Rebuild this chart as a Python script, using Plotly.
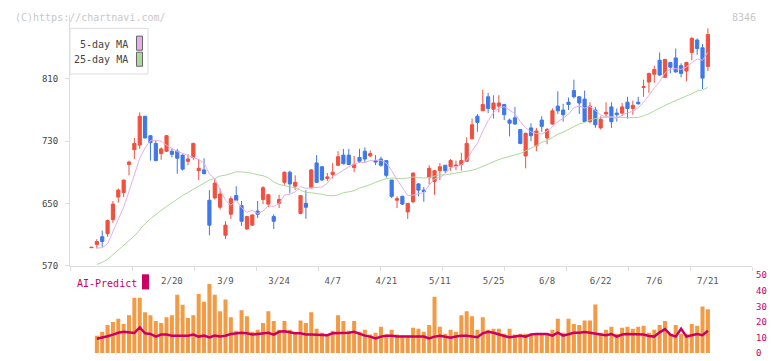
import plotly.graph_objects as go

# ---------------- data ----------------
tick_idx = [15, 25, 35, 45, 55, 65, 75, 85, 95, 105, 115]
tick_text = ["2/20", "3/9", "3/24", "4/7", "4/21", "5/11", "5/25", "6/8", "6/22", "7/6", "7/21"]

opens = [593, 597, 607, 611, 629, 658, 664, 700, 719, 725, 762, 737, 727, 714, 717, 717, 717, 712, 704, 709,
         692, 693, 654, 657, 645, 609, 636, 660, 647, 617, 622, 640, 655, 649, 633, 650, 677, 690, 672, 637,
         650, 670, 702, 697, 682, 687, 699, 712, 712, 696, 709, 717, 711, 705, 707, 705, 680, 654, 659, 639,
         652, 675, 667, 683, 678, 692, 699, 697, 698, 700, 704, 733, 762, 769, 787, 771, 775, 777, 757, 760,
         745, 711, 747, 724, 757, 734, 752, 775, 770, 780, 795, 787, 784, 755, 770, 747, 765, 774, 766, 766,
         780, 772, 780, 799, 806, 816, 834, 812, 831, 837, 827, 820, 844, 860, 850, 826]
highs = [593.5, 604, 615, 629, 653, 669, 680, 705, 734, 767, 762, 737, 731, 722, 738, 720, 720, 713, 713, 728,
         707, 708, 667, 682, 669, 627, 659, 672, 653, 634, 636, 653, 672, 662, 636, 661, 691, 692, 686, 660,
         667, 694, 712, 698, 689, 702, 717, 720, 720, 711, 720, 722, 718, 712, 710, 705, 680, 659, 660, 650,
         689, 676, 671, 699, 693, 702, 699, 707, 705, 715, 735, 759, 765, 796, 792, 789, 789, 778, 759, 774,
         745, 741, 753, 747, 762, 747, 772, 794, 778, 786, 809, 788, 795, 780, 774, 762, 780, 780, 772, 779,
         787, 782, 787, 809, 818, 827, 844, 836, 832, 849, 830, 832, 864, 862, 855, 875]
lows = [593, 592, 594, 607, 625, 651, 658, 686, 707, 720, 734, 705, 704, 706, 716, 709, 688, 692, 699, 706,
        680, 688, 609, 655, 642, 604, 630, 654, 621, 616, 621, 631, 649, 645, 617, 644, 674, 663, 667, 636,
        630, 669, 676, 679, 679, 682, 698, 700, 699, 690, 702, 702, 709, 699, 697, 683, 657, 644, 648, 630,
        650, 659, 652, 674, 661, 680, 689, 692, 693, 692, 703, 732, 742, 769, 766, 759, 767, 757, 736, 751,
        726, 695, 730, 717, 742, 726, 751, 765, 755, 770, 785, 765, 755, 753, 747, 745, 761, 747, 755, 762,
        759, 764, 777, 787, 792, 805, 814, 811, 817, 818, 812, 807, 834, 841, 797, 820]
closes = [593.5, 601, 601, 628, 649, 667, 680, 703, 727, 762, 734, 728, 705, 720, 737, 713, 708, 694, 707, 727,
          695, 688, 622, 676, 662, 622, 656, 654, 627, 633, 635, 636, 670, 661, 627, 655, 690, 675, 677, 660,
          645, 693, 677, 680, 684, 690, 710, 701, 700, 700, 704, 707, 714, 703, 699, 686, 659, 656, 649, 650,
          689, 667, 665, 695, 692, 697, 692, 705, 699, 705, 727, 751, 754, 777, 772, 779, 779, 764, 753, 752,
          727, 740, 737, 743, 749, 745, 769, 769, 764, 777, 787, 779, 755, 775, 751, 758, 767, 755, 764, 774,
          772, 776, 778, 800, 817, 822, 815, 835, 825, 819, 817, 831, 862, 849, 811, 867]

ma5 = [None, 592.5, 593, 598, 614.4, 629.2, 645, 665.4, 685.2, 707.8, 721.2, 730.8, 731.2, 729.8, 724.8,
       720.6, 716.6, 714.4, 711.8, 709.8, 706.2, 702.2, 687.8, 681.6, 668.6, 654, 647.6, 654, 644.2, 638.4,
       641, 637, 640.2, 647, 645.8, 649.8, 660.6, 661.6, 664.8, 671.4, 669.4, 670, 670.4, 671, 675.8, 684.8,
       688.2, 693, 697, 700.2, 703, 702.4, 705, 705.6, 705.4, 701.8, 692.2, 680.6, 669.8, 660, 660.6, 662.2,
       664, 673.2, 681.6, 683.2, 688.2, 696.2, 697, 699.6, 705.6, 717.4, 727.2, 742.8, 756.2, 766.6, 772.2,
       774.2, 769.4, 765.4, 755, 747.2, 741.8, 739.8, 739.2, 742.8, 748.6, 755, 759.2, 764.8, 773.2, 775.2,
       772.4, 774.6, 769.4, 763.6, 761.2, 761.2, 759, 763.6, 766.4, 768.2, 772.8, 780, 788.6, 798.6, 806.4,
       817.8, 822.8, 823.2, 822.2, 825.4, 830.8, 835.6, 834, 844]
ma25 = [None, 571.5, 574, 578, 584, 589, 595, 601, 608, 616, 624, 630, 636, 641, 646, 651, 656, 660, 664, 668,
        673, 677, 680, 682, 685.1, 686.2, 688.4, 690.6, 690.5, 689.9, 688.6, 686.8, 685.5, 682.9, 677.5, 674.3,
        672.8, 671.6, 669.9, 666.8, 664.1, 663.5, 662.8, 661.7, 660, 659.8, 660.7, 663.8, 664.8, 666.3, 669.6,
        671.6, 674, 677.1, 679.7, 681.8, 682.7, 682.1, 681.6, 682.6, 683.9, 683, 682.6, 683.3, 684.6, 686.7,
        686.6, 687.8, 688.5, 689.4, 690.8, 692.5, 694.6, 697.7, 700.6, 703.6, 706.4, 708.4, 710.4, 712.6, 714.2,
        717.4, 720.7, 724.4, 728.4, 730.6, 734.7, 738.9, 741.6, 745, 748.6, 752.1, 754.1, 757.2, 759, 760.2,
        760.9, 760.9, 760.4, 760.5, 760.2, 760.1, 760.6, 762.5, 765.1, 768.9, 771.9, 775.8, 779.1, 781.9,
        784.8, 787.3, 791, 794.4, 795.8, 799]

volume = [None,
          11.2, 13.7, 18, 20, 22, 18.75, 24.4, 35.6, 35.6, 26.25, 24.4, 20.6, 19.4, 23, 24.4, 37.5, 31, 22.5,
          24.4, 38, 33, 44.4, 37.5, 26.9, 34.4, 23, 14.4, 27.5, 23.75, 13.7, 15, 19.4, 26.9, 20.6, 15, 20.6, 15,
          13.1, 21, 19.4, 26.25, 15.6, 13.1, 11.9, 14.4, 24.4, 20.6, 14.4, 20.6, 13.7, 15, 11.9, 13.1, 16.9,
          11.9, 15, 11.9, 11.25, 11.25, 16.25, 15.6, 13.7, 18, 36.25, 16.9,
          12.5, 15, 13.7, 24.4, 26.9, 23.75, 15, 23, 15, 15.6, 15.6, 12.5, 15.6, 11.9, 12.5, 12.5, 12.5, 12.5,
          12.5, 12.5, 15, 22, 13.1, 22, 18.75, 18, 21, 21, 31.25, 13.1, 15, 16.9, 12.5, 16.25, 16.9, 15.6, 16.9,
          17.5, 13.1, 15, 18, 20.6, 12.5, 18, 12.5, 12.5, 18.75, 17.5, 30, 28.1]
ai_predict = [None,
              9.2, 9.8, 10.8, 11.9, 13.1, 13.7, 13.1, 12.9, 16.5, 12.7, 12.3, 10.6, 11.9, 11.9, 11.2, 11.0, 11.2,
              11.2, 11.9, 10.6, 11.2, 10.0, 11.2, 10.6, 11.2, 12.3, 12.9, 13.1, 12.7, 11.9, 12.3, 12.7, 13.1, 11.9,
              13.7, 14.0, 13.5, 12.7, 12.7, 11.9, 11.9, 11.9, 11.9, 11.5, 12.7, 12.7, 12.9, 13.1, 13.7, 12.3, 11.2,
              10.6, 9.4, 10.6, 11.2, 11.2, 10.6, 10.6, 10.6, 11.0, 11.0, 10.6, 9.4, 10.6, 11.2,
              10.6, 9.8, 10.6, 11.2, 11.2, 10.6, 10.2, 12.7, 13.7, 13.1, 11.9, 11.0, 10.2, 10.6, 11.2, 10.6, 11.9,
              12.3, 12.3, 12.3, 11.2, 13.1, 11.2, 12.3, 13.1, 13.1, 13.5, 13.1, 12.3, 11.9, 11.5, 12.3, 10.6, 11.9,
              12.3, 12.3, 12.3, 11.9, 11.0, 10.6, 13.3, 15.4, 11.9, 10.6, 15.6, 10.6, 11.5, 12.3, 11.5, 14.4]

n = len(closes)
for arr in (opens, highs, lows, ma5, ma25, volume, ai_predict):
    assert len(arr) == n, len(arr)
idx = list(range(n))

# ---------------- styling ----------------
W, H = 772, 361
FONT = "DejaVu Sans Mono"
RED = "#f05040"
BLUE = "#3f78e8"
ORANGE = "#f29a44"
CRIMSON = "#cc0060"
PINK = "#e6aee6"
GREEN = "#acd89c"
AXIS = "#dddddd"

def px_x(v):
    return v / W

def px_y(v):
    return 1 - v / H

X0, X1 = 70, 752
fig = go.Figure()

fig.add_trace(go.Scatter(x=idx, y=ma25, mode="lines", line=dict(color=GREEN, width=1),
                         hoverinfo="skip", showlegend=False))
fig.add_trace(go.Scatter(x=idx, y=ma5, mode="lines", line=dict(color=PINK, width=1),
                         hoverinfo="skip", showlegend=False))
fig.add_trace(go.Candlestick(x=idx, open=opens, high=highs, low=lows, close=closes,
                             increasing=dict(line=dict(color=RED, width=1), fillcolor=RED),
                             decreasing=dict(line=dict(color=BLUE, width=1), fillcolor=BLUE),
                             whiskerwidth=0, hoverinfo="skip", showlegend=False))

fig.add_trace(go.Bar(x=idx, y=volume, width=0.75, marker=dict(color=ORANGE, line=dict(width=0)),
                     xaxis="x2", yaxis="y2", hoverinfo="skip", showlegend=False))
fig.add_trace(go.Scatter(x=idx, y=ai_predict, mode="lines", line=dict(color=CRIMSON, width=2.5),
                         xaxis="x2", yaxis="y2", hoverinfo="skip", showlegend=False))

# invisible trace to carry the evenly spaced frame ticks
fig.add_trace(go.Scatter(x=[0, 11], y=[None, None], xaxis="x3", yaxis="y", showlegend=False,
                         hoverinfo="skip"))

xr = [-4.01, 123.23]
fig.update_layout(
    width=W, height=H,
    margin=dict(l=0, r=0, t=0, b=0),
    paper_bgcolor="white", plot_bgcolor="white",
    font=dict(family=FONT, size=9, color="#555555"),
    boxgap=0.15,
    showlegend=False,
    xaxis=dict(domain=[px_x(X0), px_x(X1)], range=xr, anchor="y",
               tickvals=tick_idx, ticktext=tick_text, ticks="", showgrid=False, zeroline=False,
               showline=True, linecolor=AXIS, linewidth=1,
               tickfont=dict(family=FONT, size=9, color="#555555"), ticklabelstandoff=7,
               rangeslider=dict(visible=False)),
    xaxis3=dict(overlaying="x", anchor="y", range=[0, 11], tickvals=list(range(12)),
                showticklabels=False, ticks="outside", ticklen=4, tickcolor=AXIS,
                showgrid=False, zeroline=False, showline=False),
    yaxis=dict(domain=[px_y(268), px_y(10)], range=[570, 892.5], anchor="x",
               tickvals=[570, 650, 730, 810], ticks="outside", ticklen=4, tickcolor=AXIS,
               showline=True, linecolor=AXIS, linewidth=1, showgrid=False, zeroline=False,
               tickfont=dict(family=FONT, size=9, color="#444444"), ticklabelstandoff=5),
    xaxis2=dict(domain=[px_x(X0), px_x(X1)], range=xr, anchor="y2", matches="x",
                showticklabels=False, ticks="", showgrid=False, zeroline=False, showline=False),
    yaxis2=dict(domain=[px_y(358), px_y(278)], range=[0, 50], anchor="x2", side="right",
                tickvals=[0, 10, 20, 30, 40, 50], ticks="", showgrid=False, zeroline=False,
                showline=False, tickfont=dict(family=FONT, size=9, color=CRIMSON),
                ticklabelstandoff=3),
)

shapes = [
    # legend box
    dict(type="rect", xref="paper", yref="paper", x0=px_x(70), x1=px_x(148), y0=px_y(71), y1=px_y(24),
         line=dict(color=AXIS, width=1), fillcolor="white", layer="above"),
    dict(type="rect", xref="paper", yref="paper", x0=px_x(136.5), x1=px_x(142.5), y0=px_y(46.5), y1=px_y(32),
         line=dict(color="#666666", width=1), fillcolor=PINK, layer="above"),
    dict(type="rect", xref="paper", yref="paper", x0=px_x(136.5), x1=px_x(142.5), y0=px_y(63), y1=px_y(48.5),
         line=dict(color="#666666", width=1), fillcolor=GREEN, layer="above"),
    # AI-Predict marker
    dict(type="rect", xref="paper", yref="paper", x0=px_x(142), x1=px_x(149), y0=px_y(292.5), y1=px_y(277),
         line=dict(width=0), fillcolor=CRIMSON, layer="above"),
]
annotations = [
    dict(text="5-day MA", x=px_x(130), y=px_y(40.5), xref="paper", yref="paper", xanchor="right",
         yanchor="middle", showarrow=False, font=dict(family=FONT, size=10, color="#444444")),
    dict(text="25-day MA", x=px_x(130), y=px_y(56.5), xref="paper", yref="paper", xanchor="right",
         yanchor="middle", showarrow=False, font=dict(family=FONT, size=10, color="#444444")),
    dict(text="AI-Predict", x=px_x(75), y=px_y(286.5), xref="paper", yref="paper", xanchor="left",
         yanchor="middle", showarrow=False, font=dict(family=FONT, size=10, color=CRIMSON)),
    dict(text="(C)https://chartnavi.com/", x=px_x(13), y=px_y(12.5), xref="paper", yref="paper",
         xanchor="left", yanchor="middle", showarrow=False, font=dict(family=FONT, size=10, color="#c8c8c8")),
    dict(text="8346", x=px_x(758), y=px_y(12.5), xref="paper", yref="paper",
         xanchor="right", yanchor="middle", showarrow=False, font=dict(family=FONT, size=10, color="#c8c8c8")),
]
fig.update_layout(shapes=shapes, annotations=annotations)

fig.write_html("out.html", config={"displayModeBar": False, "staticPlot": True})
